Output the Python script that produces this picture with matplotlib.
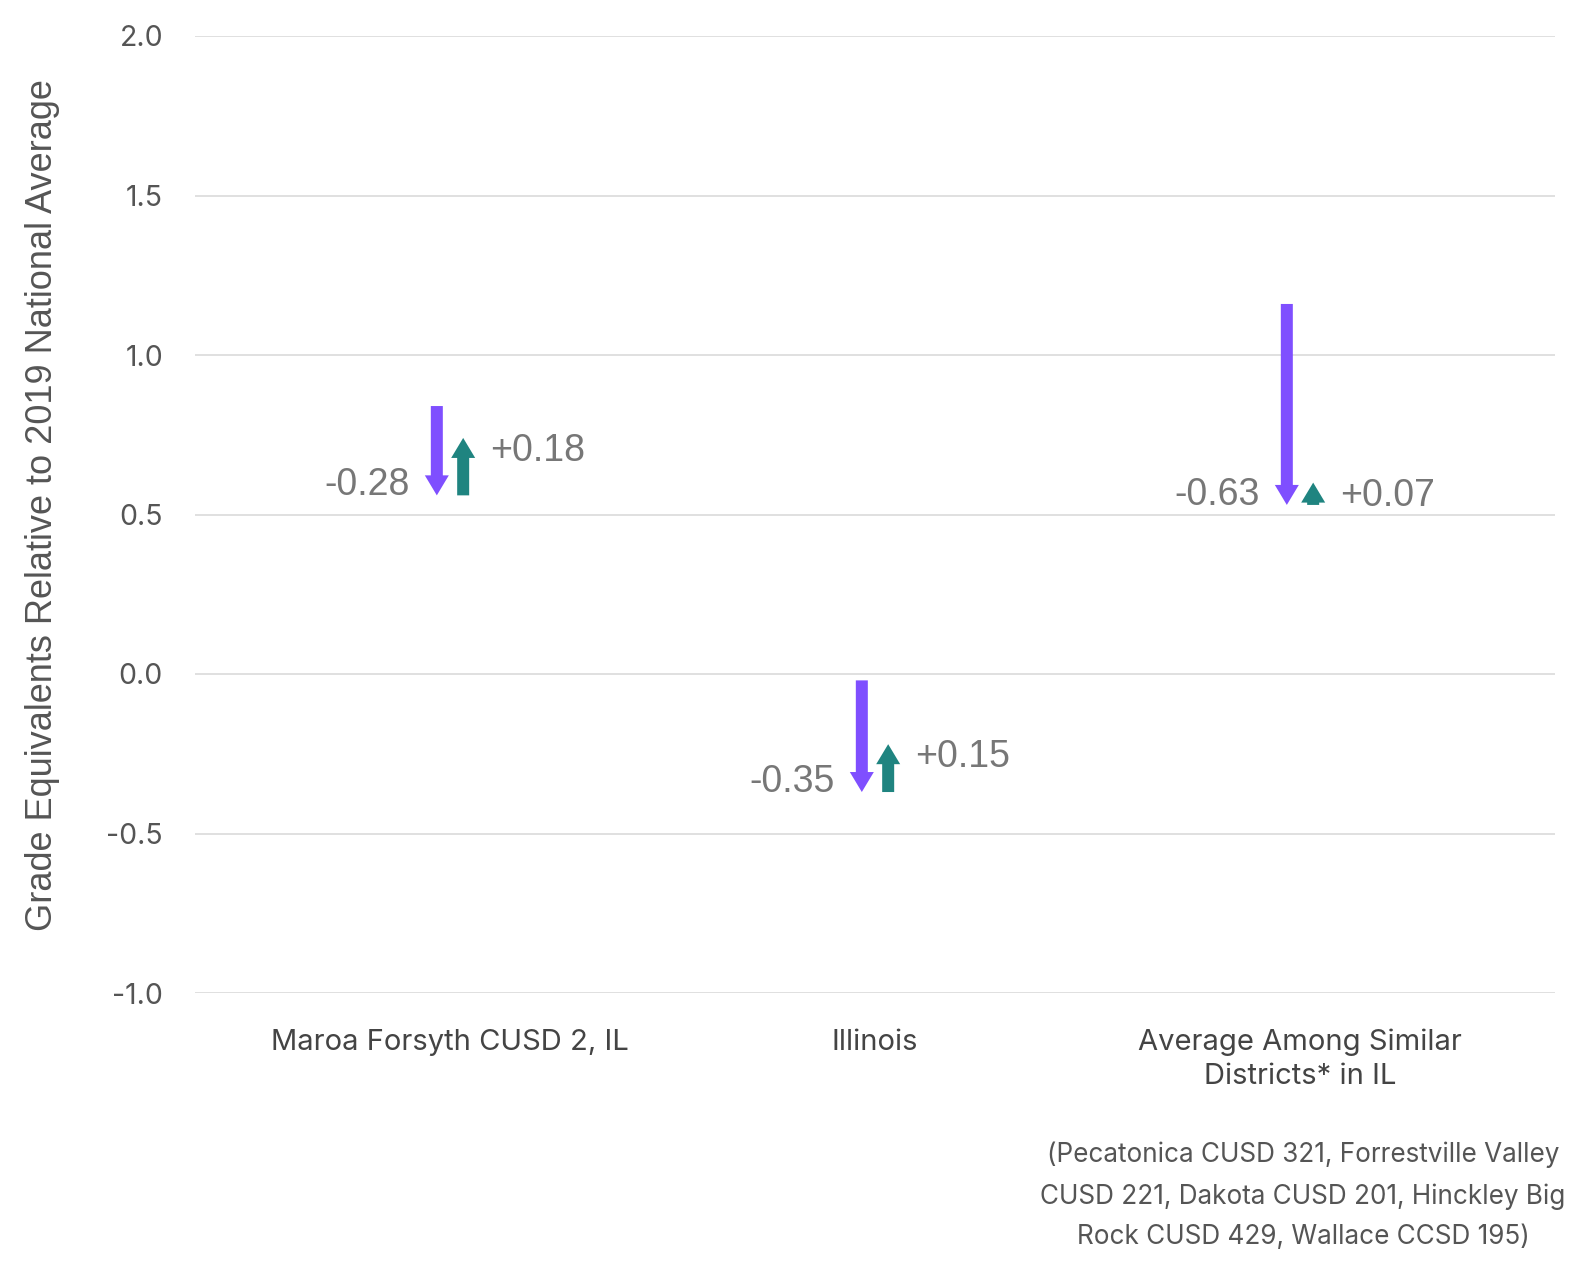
import matplotlib
matplotlib.use("Agg")
import matplotlib.pyplot as plt

categories = ["Maroa Forsyth CUSD 2, IL", "Illinois", "Average Among Similar\nDistricts* in IL"]
start_2019 = [0.84, -0.02, 1.16]
fall_2021 = [0.56, -0.37, 0.53]
spring_2022 = [0.74, -0.22, 0.60]
drop_labels = ["-0.28", "-0.35", "-0.63"]
gain_labels = ["+0.18", "+0.15", "+0.07"]
yticks = [-1.0, -0.5, 0.0, 0.5, 1.0, 1.5, 2.0]
footnote = "(Pecatonica CUSD 321, Forrestville Valley\nCUSD 221, Dakota CUSD 201, Hinckley Big\nRock CUSD 429, Wallace CCSD 195)"

PURPLE = "#7f4fff"
TEAL = "#1f8480"
PX = 0.72  # points per pixel at dpi 100

fig = plt.figure(figsize=(15.95, 12.72), dpi=100)
ax = fig.add_axes([195/1595, (1272-993)/1272, (1555-195)/1595, (993-36)/1272])
ax.set_xlim(-0.6, 2.6)
ax.set_ylim(-1.0, 2.0)
for s in ax.spines.values():
    s.set_visible(False)
ax.set_yticks(yticks)
ax.set_yticklabels([f"{v:.1f}" for v in yticks], family="Inter", fontsize=20.5, color="#555555")
ax.tick_params(axis="y", length=0, pad=32*PX)
ax.set_xticks(range(len(categories)))
ax.set_xticklabels(categories, family="Inter", fontsize=21, color="#444444", linespacing=1.33)
ax.tick_params(axis="x", length=0, pad=36*PX)
ax.grid(axis="y", color="#e0e0e0", linewidth=2*PX)
ax.set_axisbelow(True)
ax.set_ylabel("Grade Equivalents Relative to 2019 National Average", family="Liberation Sans",
              fontsize=26, color="#555555")
ax.yaxis.set_label_coords((60-195)/1360, (993-505)/957)

dx = 0.031
style = f"simple,head_width={24*PX},head_length={20*PX},tail_width={12*PX}"
for i in range(len(categories)):
    ax.annotate("", xy=(i - dx, fall_2021[i]), xytext=(i - dx, start_2019[i]),
                arrowprops=dict(arrowstyle=style, mutation_scale=1, color=PURPLE,
                                shrinkA=0, shrinkB=0, lw=0))
    ax.annotate("", xy=(i + dx, spring_2022[i]), xytext=(i + dx, fall_2021[i]),
                arrowprops=dict(arrowstyle=style, mutation_scale=1, color=TEAL,
                                shrinkA=0, shrinkB=0, lw=0))
    ax.annotate(drop_labels[i], xy=(i - dx, fall_2021[i]), xytext=(-27*PX, 10*PX),
                textcoords="offset points", ha="right", va="center",
                family="Liberation Sans", fontsize=27, color="#777777")
    ax.annotate(gain_labels[i], xy=(i + dx, spring_2022[i]), xytext=(27*PX, -13*PX),
                textcoords="offset points", ha="left", va="center",
                family="Liberation Sans", fontsize=27, color="#777777")

fig.text(1303/1595, 1-1196/1272, footnote, ha="center", va="center", family="Inter",
         fontsize=18.8, color="#555555", linespacing=1.72)
fig.savefig("out.png", dpi=100)
